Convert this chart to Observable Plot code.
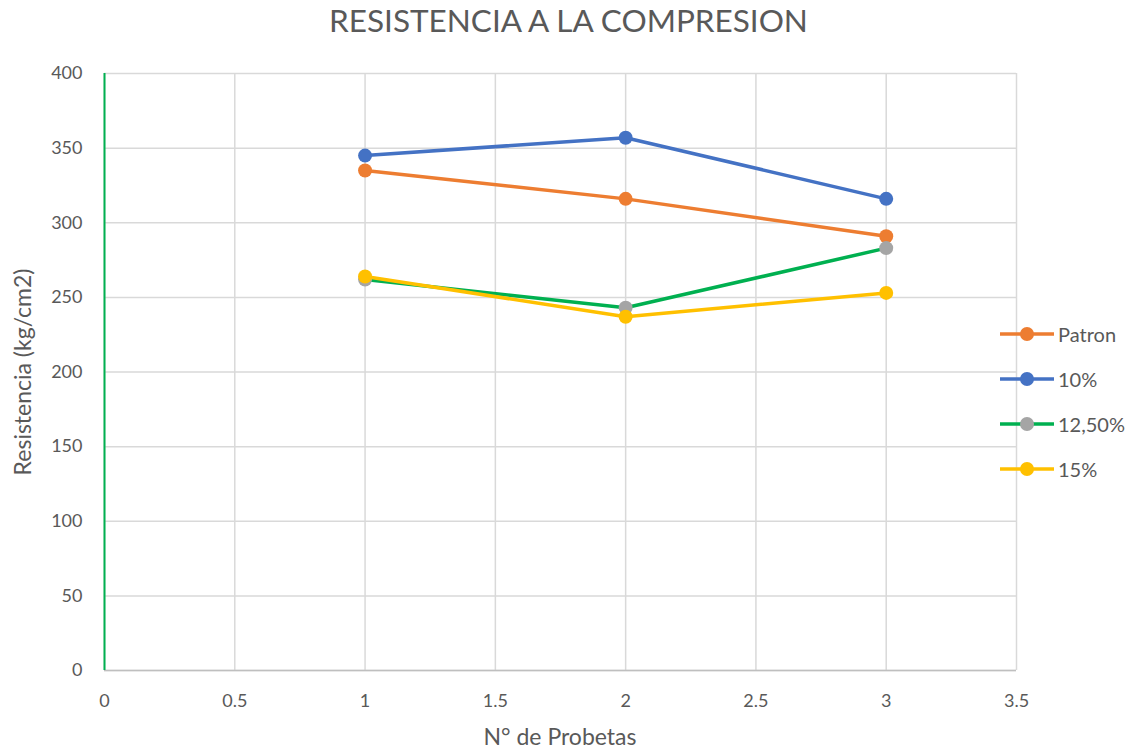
<!DOCTYPE html>
<html>
<head>
<meta charset="utf-8">
<script src="https://cdn.jsdelivr.net/npm/d3@7"></script>
<script src="https://cdn.jsdelivr.net/npm/@observablehq/plot@0.6"></script>
<style>
  body { margin: 0; background: #fff; }
  #wrap { position: relative; width: 1137px; height: 751px; font-family: Lato, "Open Sans", sans-serif; color: #595959; }
  #title { position: absolute; top: 1px; left: 0; width: 1137px; text-align: center; font-size: 31.5px; }
  #legend { position: absolute; left: 1000px; top: 311px; }
  .item { display: flex; align-items: center; height: 45px; font-size: 20px; }
  .item svg { margin-right: 4px; }
  #chart { position: absolute; left: 0; top: 0; }
  #xlabel { position: absolute; left: 104px; width: 912px; top: 722px; text-align: center; font-size: 23px; }
  #ylabel { position: absolute; left: 22px; top: 372px; transform: translate(-50%, -50%) rotate(-90deg); white-space: nowrap; font-size: 23px; }
</style>
</head>
<body>
<div id="wrap">
  <div id="chart"></div>
  <div id="title">RESISTENCIA A LA COMPRESION</div>
  <div id="xlabel">N° de Probetas</div>
  <div id="ylabel">Resistencia (kg/cm2)</div>
  <div id="legend"></div>
</div>
<script>
// Compression strength per specimen number
const probetas = [1, 2, 3];
const patron = [335, 316, 291];
const p10 = [345, 357, 316];
const p125 = [262, 243, 283];
const p15 = [264, 237, 253];

const seriesNames = ["Patron", "10%", "12,50%", "15%"];
const seriesValues = [patron, p10, p125, p15];
const lineColors = ["#ED7D31", "#4472C4", "#00B050", "#FFC000"];
const dotColors = ["#ED7D31", "#4472C4", "#A5A5A5", "#FFC000"];

const xTicks = [0, 0.5, 1, 1.5, 2, 2.5, 3, 3.5];
const yTicks = [0, 50, 100, 150, 200, 250, 300, 350, 400];

const series = seriesNames.map((name, i) =>
  probetas.map((p, j) => ({ name, x: p, y: seriesValues[i][j] }))
);

const marks = [
  Plot.gridX(xTicks, { stroke: "#d9d9d9", strokeOpacity: 1, strokeWidth: 1.5 }),
  Plot.gridY(yTicks, { stroke: "#d9d9d9", strokeOpacity: 1, strokeWidth: 1.5 }),
  Plot.ruleY([0], { stroke: "#bfbfbf", strokeWidth: 1.5 }),
  Plot.ruleX([0], { stroke: "#00B050", strokeWidth: 2 }),
  Plot.axisX(xTicks, { tickSize: 0, tickPadding: 24, fontSize: 18, fill: "#595959",
    tickFormat: d => String(d), label: null }),
  Plot.axisY(yTicks, { tickSize: 0, tickPadding: 22, fontSize: 18, fill: "#595959",
    tickFormat: d => String(d), label: null })
];
series.forEach((data, i) => {
  marks.push(Plot.line(data, { x: "x", y: "y", stroke: lineColors[i], strokeWidth: 3.5 }));
  marks.push(Plot.dot(data, { x: "x", y: "y", r: 7, fill: dotColors[i], stroke: "none" }));
});

const chart = Plot.plot({
  width: 1137,
  height: 751,
  marginLeft: 104,
  marginRight: 121,
  marginTop: 73,
  marginBottom: 81,
  style: { fontFamily: "Lato, 'Open Sans', sans-serif", fontSize: "18px", color: "#595959", background: "transparent" },
  x: { domain: [0, 3.5] },
  y: { domain: [0, 400] },
  marks
});
document.getElementById("chart").appendChild(chart);

// Hand-built legend to the right of the plot
const legend = d3.select("#legend");
seriesNames.forEach((name, i) => {
  const item = legend.append("div").attr("class", "item");
  const s = item.append("svg").attr("width", 54).attr("height", 20);
  s.append("line").attr("x1", 0).attr("x2", 54).attr("y1", 10).attr("y2", 10)
    .attr("stroke", lineColors[i]).attr("stroke-width", 3.5);
  s.append("circle").attr("cx", 27).attr("cy", 10).attr("r", 7).attr("fill", dotColors[i]);
  item.append("span").text(name);
});
</script>
</body>
</html>
